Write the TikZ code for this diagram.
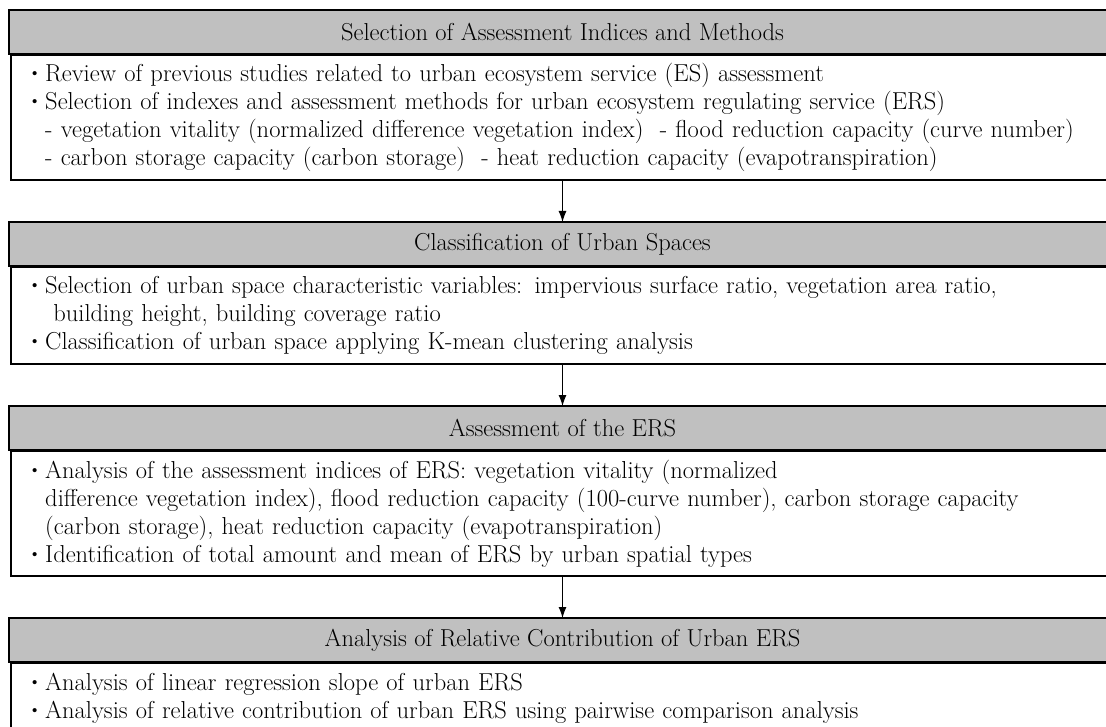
\documentclass[tikz,border=0pt]{standalone}
\usetikzlibrary{positioning,arrows.meta}
\definecolor{headgray}{RGB}{192,192,192}
\newcommand{\itembul}{\raisebox{0.25ex}{\scalebox{0.75}{\textbullet}}\hspace{4pt}}
\newcommand{\itemgap}{\phantom{\itembul}}
\tikzset{
  headbox/.style={draw=black, line width=2pt, fill=headgray, minimum width=1107pt, minimum height=44pt, inner sep=0pt, outer sep=0pt},
  bodybox/.style={draw=black, line width=2pt, fill=white, text width=1069pt, inner xsep=17pt, inner ysep=0pt, outer sep=0pt, align=left},
  steparrow/.style={-{Latex[length=11pt,width=8pt]}, line width=1pt, black}
}
\begin{document}
\begin{tikzpicture}[x=1pt, y=-1pt, node distance=42pt, font=\fontsize{24.5}{28}\selectfont]
  \useasboundingbox (0,0) rectangle (1106,727);
  \clip (0,0) rectangle (1106,727);
  \node[headbox] (sel) at (562.5,32) {Selection of Assessment Indices and Methods};
  \node[bodybox, minimum height=125pt, below=1pt of sel] (selbody) {\itembul Review of previous studies related to urban ecosystem service (ES) assessment\\
    \itembul Selection of indexes and assessment methods for urban ecosystem regulating service (ERS)\\
    \itemgap- vegetation vitality (normalized difference vegetation index)~~- flood reduction capacity (curve number)\\
    \itemgap- carbon storage capacity (carbon storage)~~- heat reduction capacity (evapotranspiration)};
  \node[headbox, below=of selbody] (cls) {Classification of Urban Spaces};
  \node[bodybox, minimum height=97pt, below=1pt of cls] (clsbody) {\itembul Selection of urban space characteristic variables: impervious surface ratio, vegetation area ratio,\\
    \itemgap\ building height, building coverage ratio\\
    \itembul Classification of urban space applying K-mean clustering analysis};
  \node[headbox, below=of clsbody] (ers) {Assessment of the ERS};
  \node[bodybox, minimum height=125pt, below=1pt of ers] (ersbody) {\itembul Analysis of the assessment indices of ERS: vegetation vitality (normalized\\
    \itemgap difference vegetation index), flood reduction capacity (100-curve number), carbon storage capacity\\
    \itemgap (carbon storage), heat reduction capacity (evapotranspiration)\\
    \itembul Identification of total amount and mean of ERS by urban spatial types};
  \node[headbox, below=of ersbody] (rel) {Analysis of Relative Contribution of Urban ERS};
  \node[bodybox, minimum height=70pt, below=1pt of rel] (relbody) {\itembul Analysis of linear regression slope of urban ERS\\
    \itembul Analysis of relative contribution of urban ERS using pairwise comparison analysis};
  \draw[steparrow] (selbody) -- (cls);
  \draw[steparrow] (clsbody) -- (ers);
  \draw[steparrow] (ersbody) -- (rel);
\end{tikzpicture}
\end{document}
